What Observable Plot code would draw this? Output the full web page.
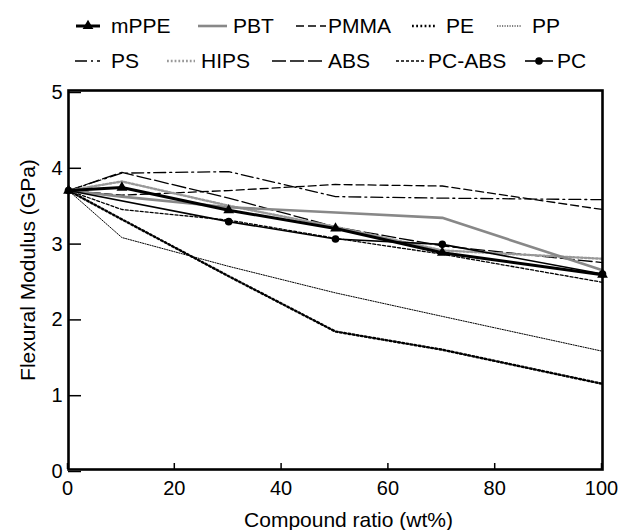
<!DOCTYPE html>
<html><head><meta charset="utf-8">
<script src="https://cdn.jsdelivr.net/npm/d3@7"></script>
<script src="https://cdn.jsdelivr.net/npm/@observablehq/plot@0.6"></script>
<style>
body{margin:0;background:#fff;font-family:"Liberation Sans",Arial,sans-serif;}
#chart{width:618px;height:530px;overflow:hidden;}
#chart svg{display:block;}
</style></head><body><div id="chart"></div>
<script>
// ---- data ----
const ratios = [0, 10, 30, 50, 70, 100];
const pcRatios = [0, 30, 50, 70, 100];
const seriesNames = ["mPPE", "PBT", "PMMA", "PE", "PP", "PS", "HIPS", "ABS", "PC-ABS", "PC"];
const mPPE   = [3.68, 3.72, 3.42, 3.18, 2.86, 2.57];
const PBT    = [3.68, 3.60, 3.46, 3.39, 3.32, 2.63];
const PMMA   = [3.68, 3.62, 3.68, 3.76, 3.74, 3.43];
const PE     = [3.68, 3.30, 2.55, 1.82, 1.58, 1.13];
const PP     = [3.68, 3.06, 2.68, 2.33, 2.02, 1.56];
const PS     = [3.68, 3.91, 3.93, 3.60, 3.58, 3.56];
const HIPS   = [3.68, 3.80, 3.48, 3.20, 2.89, 2.78];
const ABS    = [3.68, 3.92, 3.58, 3.20, 2.95, 2.73];
const PC_ABS = [3.68, 3.43, 3.29, 3.05, 2.84, 2.47];
const PC     = [3.68, 3.27, 3.04, 2.97, 2.58];
const xTicks = [0, 20, 40, 60, 80, 100];
const yTicks = [0, 1, 2, 3, 4, 5];
const xTitle = "Compound ratio (wt%)";
const yTitle = "Flexural Modulus (GPa)";

const valueMap = {"mPPE": mPPE, "PBT": PBT, "PMMA": PMMA, "PE": PE, "PP": PP, "PS": PS,
  "HIPS": HIPS, "ABS": ABS, "PC-ABS": PC_ABS, "PC": PC};
const rows = seriesNames.flatMap(name => {
  const xs = name === "PC" ? pcRatios : ratios;
  return valueMap[name].map((v, i) => ({series: name, ratio: xs[i], modulus: v}));
});

// ---- styles ----
const styles = {
  "mPPE":   {stroke: "#000", strokeWidth: 3},
  "PBT":    {stroke: "#888", strokeWidth: 2.6},
  "PMMA":   {stroke: "#000", strokeWidth: 1.3, strokeDasharray: "8,4"},
  "PE":     {stroke: "#000", strokeWidth: 2.4, strokeDasharray: "1.8,2.4"},
  "PP":     {stroke: "#000", strokeWidth: 1, strokeDasharray: "1.2,1.3"},
  "PS":     {stroke: "#000", strokeWidth: 1.3, strokeDasharray: "12,4,2,4"},
  "HIPS":   {stroke: "#999", strokeWidth: 2.4, strokeDasharray: "1.8,2"},
  "ABS":    {stroke: "#000", strokeWidth: 1.3, strokeDasharray: "14,4"},
  "PC-ABS": {stroke: "#000", strokeWidth: 1.3, strokeDasharray: "3,2"},
  "PC":     {stroke: "#000", strokeWidth: 1.6}
};
const drawOrder = ["PP", "PE", "PC-ABS", "PMMA", "PS", "ABS", "HIPS", "PBT", "PC", "mPPE"];

// ---- legend ----
const legendLayout = [
  {name: "mPPE", row: 0, x1: 76, x2: 100, tx: 111},
  {name: "PBT", row: 0, x1: 198, x2: 227, tx: 233},
  {name: "PMMA", row: 0, x1: 296, x2: 326, tx: 328},
  {name: "PE", row: 0, x1: 412, x2: 436, tx: 446},
  {name: "PP", row: 0, x1: 497, x2: 521, tx: 532},
  {name: "PS", row: 1, x1: 75, x2: 100, tx: 111},
  {name: "HIPS", row: 1, x1: 167, x2: 195, tx: 201},
  {name: "ABS", row: 1, x1: 272, x2: 326, tx: 328},
  {name: "PC-ABS", row: 1, x1: 396, x2: 424, tx: 428},
  {name: "PC", row: 1, x1: 525, x2: 553, tx: 557}
];
const rowY = [26, 61];
const chart = d3.select("#chart");
const leg = chart.append("svg").attr("width", 618).attr("height", 76)
  .style("font-family", "'Liberation Sans', Arial, sans-serif").style("font-size", "21px");
for (const it of legendLayout) {
  const s = styles[it.name];
  const y = rowY[it.row];
  leg.append("line").attr("x1", it.x1).attr("x2", it.x2).attr("y1", y).attr("y2", y)
    .attr("stroke", s.stroke).attr("stroke-width", s.strokeWidth)
    .attr("stroke-dasharray", s.strokeDasharray || null);
  const mx = (it.x1 + it.x2) / 2;
  if (it.name === "mPPE") {
    leg.append("path").attr("d", d3.symbol(d3.symbolTriangle, Math.PI * 16)())
      .attr("transform", `translate(${mx},${y})`).attr("fill", "#000");
  }
  if (it.name === "PC") {
    leg.append("circle").attr("cx", mx).attr("cy", y).attr("r", 3.8).attr("fill", "#000");
  }
  leg.append("text").attr("x", it.tx).attr("y", y).attr("dy", "0.35em").attr("fill", "#000").text(it.name);
}

// ---- plot ----
const lineMarks = drawOrder.map(name =>
  Plot.line(rows.filter(d => d.series === name), {x: "ratio", y: "modulus", ...styles[name]}));

const plot = Plot.plot({
  width: 618, height: 454,
  marginTop: 14, marginBottom: 61, marginLeft: 68, marginRight: 16,
  style: {fontFamily: "'Liberation Sans', Arial, sans-serif", fontSize: "21px", color: "#000", background: "#fff"},
  x: {domain: [0, 100]},
  y: {domain: [0, 5]},
  marks: [
    ...lineMarks,
    Plot.dot(rows.filter(d => d.series === "mPPE"), {x: "ratio", y: "modulus", symbol: "triangle", r: 4, fill: "#000"}),
    Plot.dot(rows.filter(d => d.series === "PC"), {x: "ratio", y: "modulus", r: 3.8, fill: "#000"}),
    Plot.axisX({ticks: xTicks, tickSize: -6, tickPadding: 17, label: null, strokeWidth: 1.5, tickFormat: d => d, fontSize: 20, dx: -1}),
    Plot.axisY({ticks: yTicks, tickSize: -13, tickPadding: 19, label: null, strokeWidth: 1.5, tickFormat: d => d, dy: 2, fontSize: 20}),
    Plot.frame({stroke: "#000", strokeWidth: 2.6}),
    Plot.text([xTitle], {text: d => d, frameAnchor: "bottom", dy: 51, dx: 13, lineAnchor: "middle", textAnchor: "middle", fontSize: 21}),
    Plot.text([yTitle], {text: d => d, frameAnchor: "left", rotate: -90, dx: -40, dy: -10, lineAnchor: "middle", textAnchor: "middle", fontSize: 21})
  ]
});
chart.node().appendChild(plot);
</script>
</body></html>
